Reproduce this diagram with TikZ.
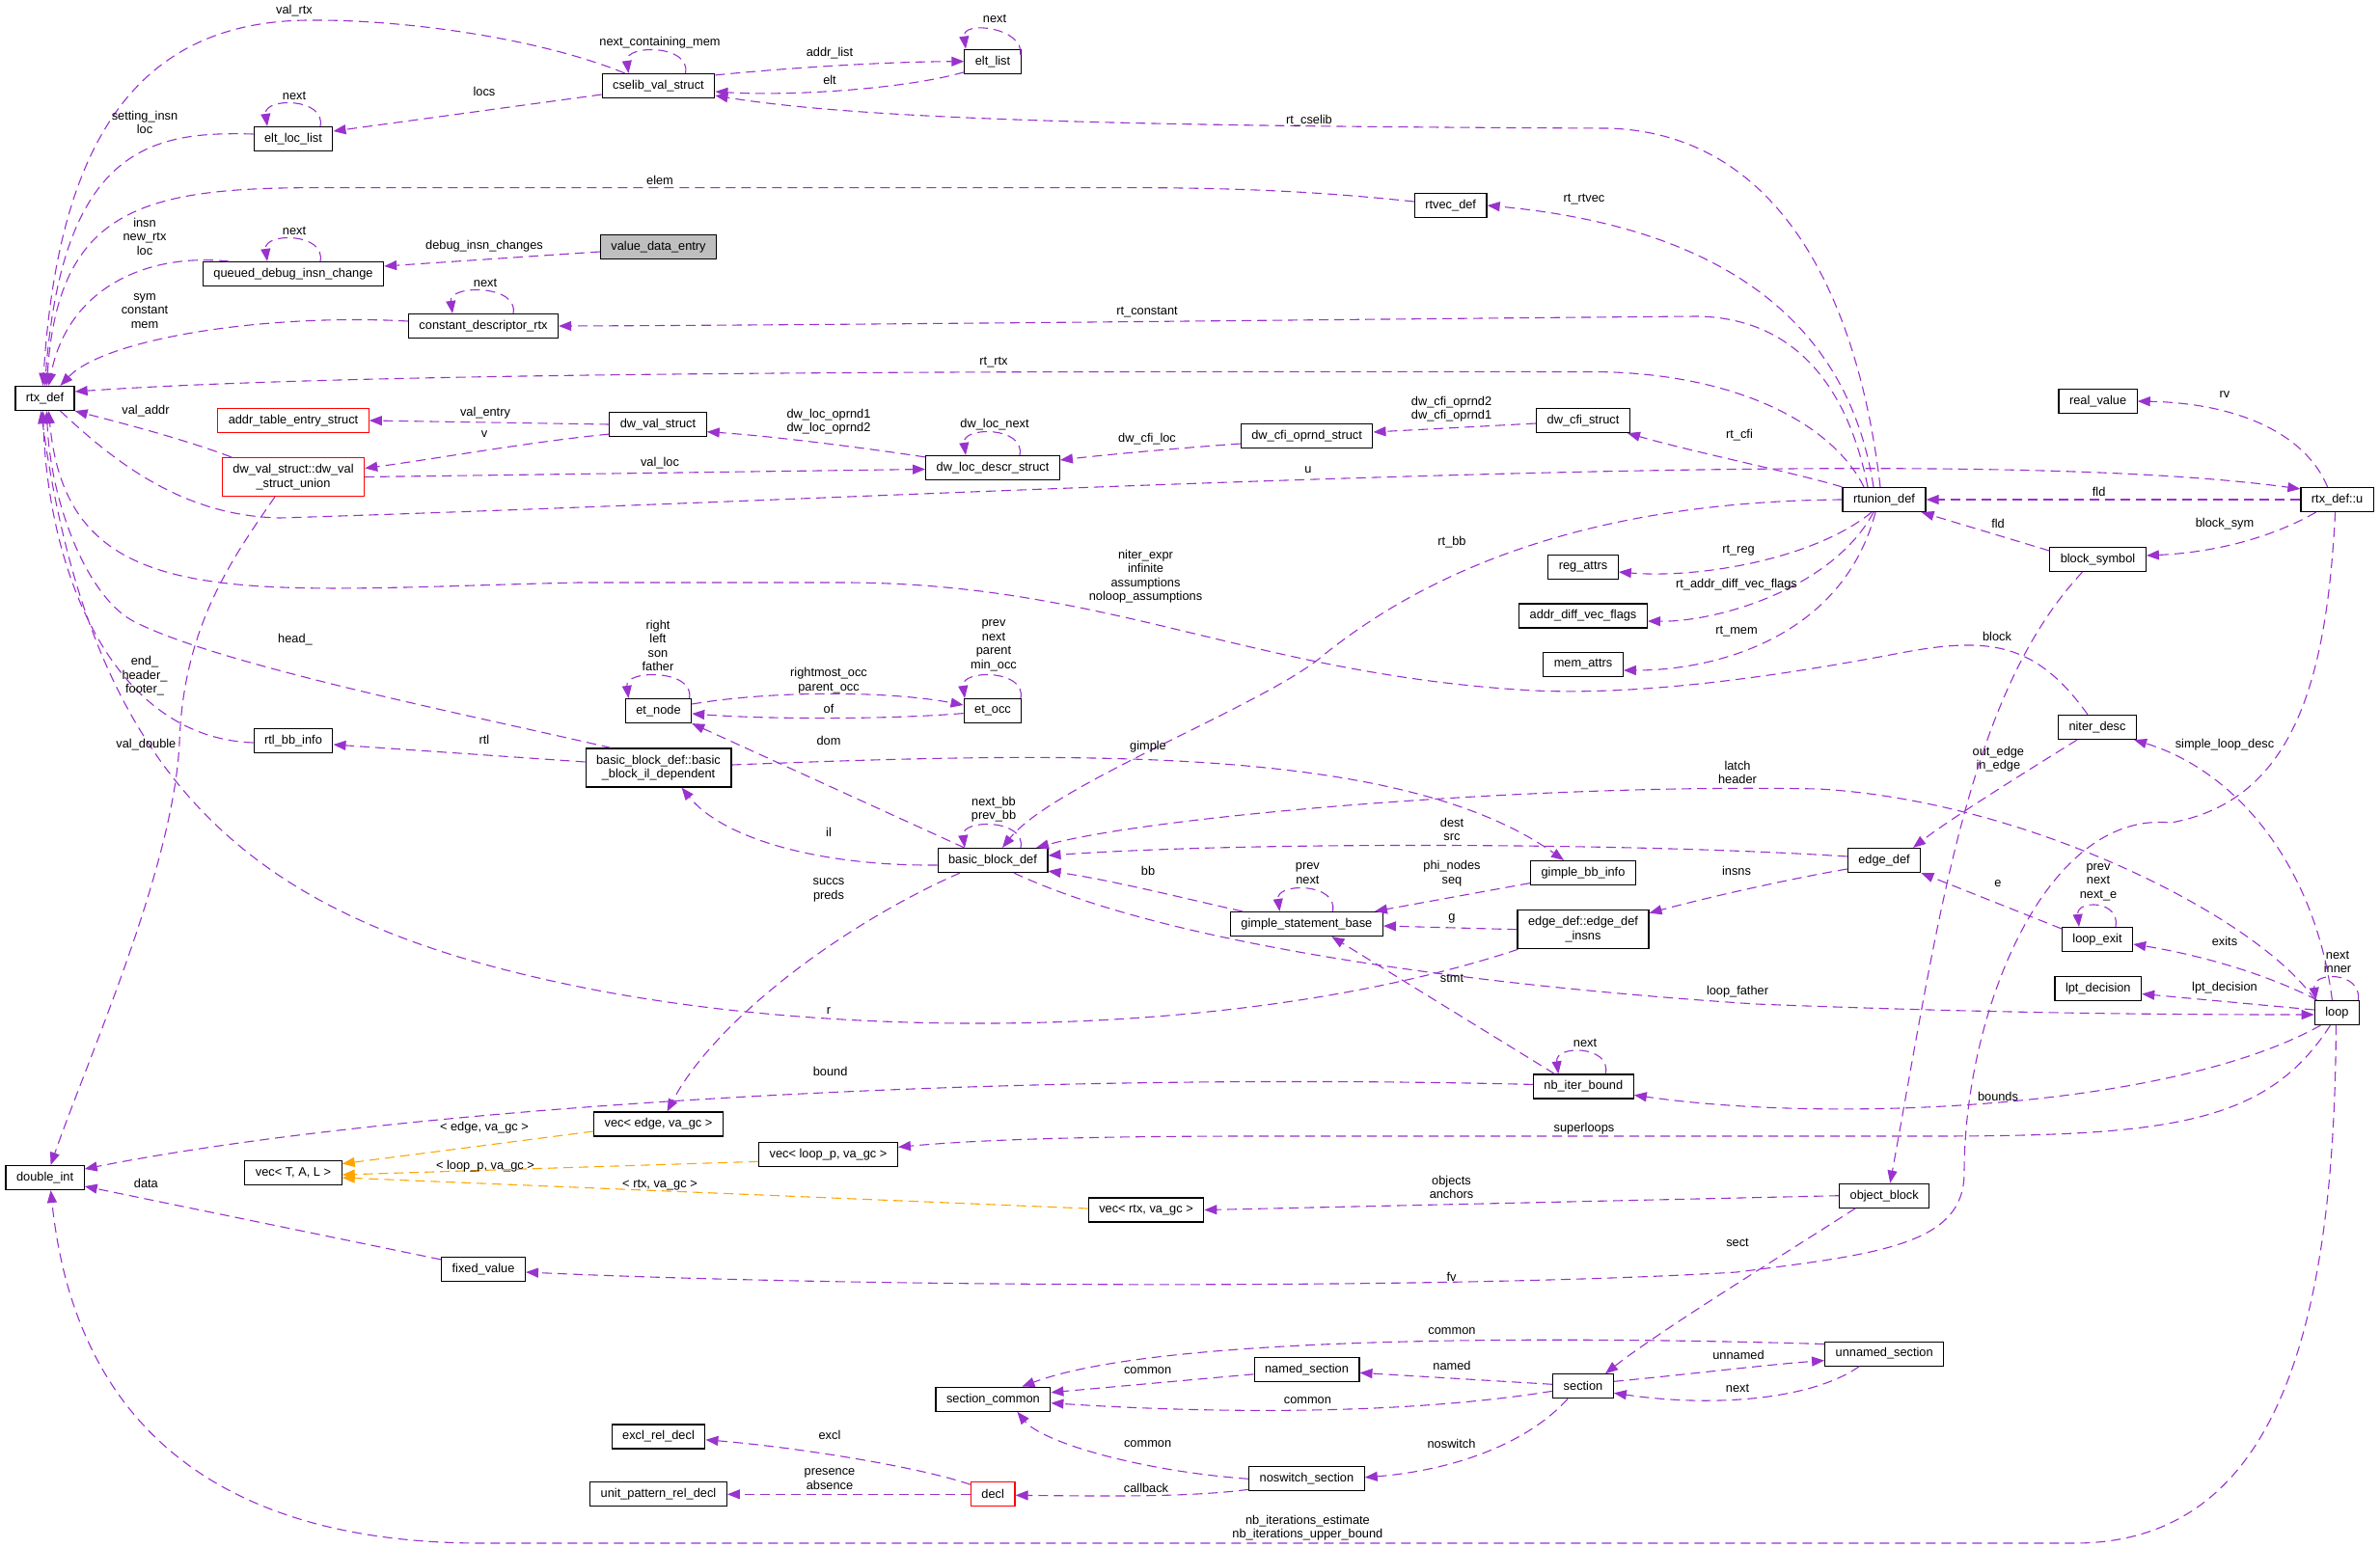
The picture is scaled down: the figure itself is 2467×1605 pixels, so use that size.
\documentclass[tikz,border=0pt]{standalone}
\usepackage{fontspec}
\setmainfont{Liberation Sans}
\usetikzlibrary{arrows.meta}
\definecolor{dxPurple}{HTML}{9A32CD}
\definecolor{dxOrange}{HTML}{FFA500}
\definecolor{dxGrey}{HTML}{BFBFBF}

\begin{document}
\begin{tikzpicture}[
  x=1pt,y=-1pt,
  cls/.style={draw=black,line width=1.2pt,fill=white,inner xsep=11pt,inner ysep=0pt,
              minimum height=25pt,font=\fontsize{12.8}{14.5}\selectfont,align=center},
  cls2/.style={cls,minimum height=40pt},
  undoc/.style={cls,draw=red},
  lbl/.style={inner sep=0pt,font=\fontsize{12.8}{14.5}\selectfont,align=center},
  rel/.style={draw=dxPurple,line width=1.1pt,dash pattern=on 10pt off 6pt,
              -{Triangle[length=13pt,width=10pt]}},
  tmpl/.style={rel,draw=dxOrange}
]
  \useasboundingbox (0,0) rectangle (2467,1605);

  % Column 1
  \node[cls] (rtxdef)    at (46.5,413)  {rtx\_def};
  \node[cls] (doubleint) at (46.6,1221) {double\_int};

  % Column 2
  \node[cls]   (eltloclist) at (304,144)   {elt\_loc\_list};
  \node[cls]   (queued)     at (304,284)   {queued\_debug\_insn\_change};
  \node[undoc] (addrtable)  at (304,436)   {addr\_table\_entry\_struct};
  \node[undoc,minimum height=40pt] (dwvalunion) at (304,494.5) {dw\_val\_struct::dw\_val\\\_struct\_union};
  \node[cls]   (rtlbb)      at (304,768)   {rtl\_bb\_info};
  \node[cls]   (vect)       at (304,1216)  {vec< T, A, L >};
  \node[cls]   (constdesc)  at (501,338)   {constant\_descriptor\_rtx};
  \node[cls]   (fixedval)   at (501,1316)  {fixed\_value};

  % Column 3
  \node[cls]   (cselib)    at (682.5,89)     {cselib\_val\_struct};
  \node[cls,fill=dxGrey] (valuedata) at (682.5,256) {value\_data\_entry};
  \node[cls]   (dwval)     at (682,440)      {dw\_val\_struct};
  \node[cls]   (etnode)    at (682.5,737)    {et\_node};
  \node[cls2]  (bbil)      at (682.5,796)    {basic\_block\_def::basic\\\_block\_il\_dependent};
  \node[cls]   (vecedge)   at (682.5,1165.5) {vec< edge, va\_gc >};
  \node[cls]   (excl)      at (682.5,1489.5) {excl\_rel\_decl};
  \node[cls]   (unitpat)   at (682.5,1549.3) {unit\_pattern\_rel\_decl};
  \node[cls]   (veclp)     at (858.5,1197.3) {vec< loop\_p, va\_gc >};

  % Column 4
  \node[cls]   (eltlist)    at (1029,63.7)    {elt\_list};
  \node[cls]   (dwlocdescr) at (1029,485)     {dw\_loc\_descr\_struct};
  \node[cls]   (etocc)      at (1029,737)     {et\_occ};
  \node[cls]   (bbdef)      at (1029,892)     {basic\_block\_def};
  \node[cls]   (seccommon)  at (1029.4,1450.7) {section\_common};
  \node[undoc] (decl)       at (1029.2,1549.3) {decl};
  \node[cls]   (vecrtx)     at (1188,1254.5)  {vec< rtx, va\_gc >};

  % Column 5
  \node[cls] (cfioprnd) at (1354.6,452)    {dw\_cfi\_oprnd\_struct};
  \node[cls] (gsb)      at (1354.4,958)    {gimple\_statement\_base};
  \node[cls] (named)    at (1354.5,1419.8) {named\_section};
  \node[cls] (noswitch) at (1354.4,1533.3) {noswitch\_section};
  \node[cls] (rtvecdef) at (1503.7,213)    {rtvec\_def};

  % Column 6
  \node[cls]  (cfistruct) at (1641,436)     {dw\_cfi\_struct};
  \node[cls]  (regattrs)  at (1641,588)     {reg\_attrs};
  \node[cls]  (addrdiff)  at (1641,638.5)   {addr\_diff\_vec\_flags};
  \node[cls]  (memattrs)  at (1641,689)     {mem\_attrs};
  \node[cls]  (gbbinfo)   at (1641,905)     {gimple\_bb\_info};
  \node[cls2] (edgeinsns) at (1641,963.7)   {edge\_def::edge\_def\\\_insns};
  \node[cls]  (nbiter)    at (1641.3,1126.4) {nb\_iter\_bound};
  \node[cls]  (section)   at (1641,1437.3)  {section};

  % Column 7
  \node[cls] (rtunion)  at (1953,518)      {rtunion\_def};
  \node[cls] (edgedef)  at (1953,892)      {edge\_def};
  \node[cls] (objblock) at (1953.2,1239.7) {object\_block};
  \node[cls] (unnamed)  at (1953.2,1403.6) {unnamed\_section};

  % Column 8
  \node[cls] (realvalue) at (2174.6,416) {real\_value};
  \node[cls] (blocksym)  at (2174.5,580) {block\_symbol};
  \node[cls] (niterdesc) at (2174,754)   {niter\_desc};
  \node[cls] (loopexit)  at (2174,974)   {loop\_exit};
  \node[cls] (lptdec)    at (2174.8,1025) {lpt\_decision};
  \node[cls] (rtxu)      at (2422.6,518) {rtx\_def::u};
  \node[cls] (loop)      at (2422.4,1050) {loop};

  % Edges into rtx_def
  \draw[rel] ([xshift=24pt]cselib.north west) .. controls (560,40) and (420,20) .. (320,21)
             .. controls (140,22) and (60,150) .. ([xshift=-2pt]rtxdef.north);
  \node[lbl] at (305,11) {val\_rtx};
  \draw[rel] ([yshift=5pt]eltloclist.west) .. controls (160,136) and (65,150) .. (rtxdef.north);
  \node[lbl] at (150,127) {setting\_insn\\loc};
  \draw[rel] ([yshift=4pt]rtvecdef.west) .. controls (1380,200) and (1300,195) .. (1180,194.6)
             -- (330,194.6) .. controls (150,194.6) and (60,215) .. ([xshift=2pt]rtxdef.north);
  \node[lbl] at (684,187) {elem};
  \draw[rel] ([xshift=27pt]queued.north west) .. controls (150,262) and (70,300) .. ([xshift=4pt]rtxdef.north);
  \node[lbl] at (150,245) {insn\\new\_rtx\\loc};
  \draw[rel] ([yshift=5pt]constdesc.west) .. controls (280,325) and (110,350) .. ([xshift=16pt]rtxdef.north);
  \node[lbl] at (150,322.5) {sym\\constant\\mem};
  \draw[rel] ([xshift=-21pt]rtunion.north) .. controls (1900,440) and (1800,386) .. (1650,385.5)
             .. controls (1100,385) and (400,384) .. ([yshift=7pt]rtxdef.east);
  \node[lbl] at (1030,376) {rt\_rtx};
  \draw[rel] ([xshift=10pt]dwvalunion.north west) .. controls (190,455) and (120,437) .. (rtxdef.south east);
  \node[lbl] at (151,426) {val\_addr};
  \draw[rel] ([xshift=27pt]bbil.north west) .. controls (480,740) and (230,690) .. (140,645)
             .. controls (90,620) and (52,520) .. ([xshift=2pt]rtxdef.south);
  \node[lbl] at (306,663) {head\_};
  \draw[rel] ([yshift=-2pt]rtlbb.west) .. controls (120,765) and (50,600) .. ([xshift=-2pt]rtxdef.south);
  \node[lbl] at (150,700.8) {end\_\\header\_\\footer\_};
  \draw[rel] ([xshift=-10pt]niterdesc.north) .. controls (2110,665) and (2060,660) .. (1970,677)
             .. controls (1880,694) and (1720,722) .. (1590,716)
             .. controls (1300,700) and (1150,605) .. (877,604) -- (600,604)
             .. controls (250,612) and (70,640) .. ([xshift=4pt]rtxdef.south);
  \node[lbl] at (1187.5,597.5) {niter\_expr\\infinite\\assumptions\\noloop\_assumptions};
  \draw[rel] ([xshift=1pt]edgeinsns.south west) .. controls (1300,1075) and (900,1080) .. (620,1027)
             .. controls (300,965) and (100,850) .. ([xshift=-4pt]rtxdef.south);
  \node[lbl] at (859,1048.5) {r};
  \draw[rel] ([xshift=16pt]rtxdef.south) .. controls (120,480) and (190,535) .. (290,537)
             .. controls (1000,515) and (2000,455) .. ([yshift=-2pt]rtxu.north west);
  \node[lbl] at (1356,487) {u};

  % cselib and friends
  \draw[rel] ([xshift=28pt]cselib.north) .. controls +(6,-30) and +(-4,-30) .. ([xshift=-31pt]cselib.north);
  \node[lbl] at (684,44) {next\_containing\_mem};
  \draw[rel] ([yshift=-2pt]cselib.north east) .. controls (820,70) and (920,64) .. (eltlist.west);
  \node[lbl] at (860,55) {addr\_list};
  \draw[rel] ([yshift=2pt]eltlist.south west) .. controls (940,92) and (820,100) .. ([yshift=-6pt]cselib.east);
  \node[lbl] at (860,83) {elt};
  \draw[rel] ([xshift=-1pt,yshift=-6pt]eltlist.north east) .. controls +(4,-28) and +(-4,-30) .. ([xshift=-28pt]eltlist.north);
  \node[lbl] at (1031,19) {next};
  \draw[rel] ([yshift=-9pt]cselib.west) -- ([yshift=8pt]eltloclist.east);
  \node[lbl] at (502,95) {locs};
  \draw[rel] ([xshift=28pt]eltloclist.north) .. controls +(6,-30) and +(-4,-30) .. ([xshift=-27pt]eltloclist.north);
  \node[lbl] at (305,99) {next};
  \draw[rel] ([xshift=-4pt]rtunion.north) .. controls (1925,300) and (1840,138) .. (1667,133)
             .. controls (1200,131) and (900,125) .. ([yshift=3pt]cselib.south east);
  \node[lbl] at (1357,125) {rt\_cselib};
  \draw[rel] ([xshift=-11pt]rtunion.north) .. controls (1915,330) and (1780,235) .. (rtvecdef.east);
  \node[lbl] at (1642,207) {rt\_rtvec};
  \draw[rel] ([yshift=-5pt]valuedata.west) -- ([yshift=8pt]queued.east);
  \node[lbl] at (502,255) {debug\_insn\_changes};
  \draw[rel] ([xshift=28pt]queued.north) .. controls +(6,-30) and +(-4,-30) .. ([xshift=-27pt]queued.north);
  \node[lbl] at (305,239) {next};
  \draw[rel] ([xshift=31pt]constdesc.north) .. controls +(6,-30) and +(-4,-30) .. ([xshift=-32pt]constdesc.north);
  \node[lbl] at (503,293) {next};
  \draw[rel] ([xshift=-17pt]rtunion.north) .. controls (1915,400) and (1860,330) .. (1760,328)
             .. controls (1500,330) and (900,337) .. (constdesc.east);
  \node[lbl] at (1189,324) {rt\_constant};

  % dwarf structures
  \draw[rel] (rtunion.north west) .. controls (1860,490) and (1760,470) .. ([xshift=-3pt]cfistruct.south east);
  \node[lbl] at (1803,451) {rt\_cfi};
  \draw[rel] ([yshift=-3pt]cfistruct.west) -- ([yshift=4pt]cfioprnd.east);
  \node[lbl] at (1504.5,424) {dw\_cfi\_oprnd2\\dw\_cfi\_oprnd1};
  \draw[rel] ([yshift=-8pt]cfioprnd.west) .. controls (1230,464) and (1150,471) .. ([yshift=8pt]dwlocdescr.east);
  \node[lbl] at (1189,455) {dw\_cfi\_loc};
  \draw[rel] ([xshift=28pt]dwlocdescr.north) .. controls +(6,-30) and +(-4,-30) .. ([xshift=-28pt]dwlocdescr.north);
  \node[lbl] at (1031,440) {dw\_loc\_next};
  \draw[rel] ([yshift=-2pt]dwlocdescr.north west) .. controls (900,465) and (800,452) .. ([yshift=-7.7pt]dwval.east);
  \node[lbl] at (859,437.4) {dw\_loc\_oprnd1\\dw\_loc\_oprnd2};
  \draw[rel] (dwval.west) -- (addrtable.east);
  \node[lbl] at (503,428) {val\_entry};
  \draw[rel] ([yshift=3pt]dwval.south west) .. controls (550,458) and (450,476) .. ([yshift=9pt]dwvalunion.east);
  \node[lbl] at (502,450.5) {v};
  \draw[rel] (dwvalunion.east) -- ([yshift=-1.5pt]dwlocdescr.west);
  \node[lbl] at (684,480) {val\_loc};
  \draw[rel] ([xshift=-19pt]dwvalunion.south) .. controls (240,580) and (190,650) .. (186,770)
             .. controls (180,900) and (90,1100) .. ([xshift=6pt]doubleint.north);
  \node[lbl] at (151.4,772.5) {val\_double};

  % rtunion_def members
  \draw[rel] (rtxu.west) -- (rtunion.east);
  \node[lbl] at (2175.6,510) {fld};
  \draw[rel] ([yshift=9pt]blocksym.west) -- ([xshift=-5pt]rtunion.south east);
  \node[lbl] at (2071,543) {fld};
  \draw[rel] ([xshift=-22pt]rtxu.south) .. controls (2350,560) and (2290,573) .. ([yshift=4pt]blocksym.east);
  \node[lbl] at (2306,543) {block\_sym};
  \draw[rel] ([xshift=-10pt]rtxu.north) .. controls (2390,450) and (2320,418) .. (realvalue.east);
  \node[lbl] at (2306,409) {rv};
  \draw[rel] ([xshift=-13pt]rtunion.south) .. controls (1880,580) and (1760,600) .. ([yshift=-5pt]regattrs.east);
  \node[lbl] at (1802,571) {rt\_reg};
  \draw[rel] ([xshift=-11pt]rtunion.south) .. controls (1900,610) and (1780,645) .. ([yshift=-5.5pt]addrdiff.east);
  \node[lbl] at (1800,606) {rt\_addr\_diff\_vec\_flags};
  \draw[rel] ([xshift=-9pt]rtunion.south) .. controls (1910,660) and (1780,695) .. ([yshift=-6pt]memattrs.east);
  \node[lbl] at (1800,655) {rt\_mem};
  \draw[rel] (rtunion.west) .. controls (1650,520) and (1480,590) .. (1366,684)
             .. controls (1300,735) and (1090,815) .. ([xshift=10pt]bbdef.north);
  \node[lbl] at (1505,562) {rt\_bb};

  % basic blocks
  \draw[rel] ([xshift=32pt]etnode.north) .. controls +(6,-30) and +(-4,-30) .. ([xshift=-31pt]etnode.north);
  \node[lbl] at (682,669.5) {right\\left\\son\\father};
  \draw[rel] ([xshift=29pt]etocc.north) .. controls +(6,-30) and +(-4,-30) .. ([xshift=-29pt]etocc.north);
  \node[lbl] at (1030,669.5) {prev\\next\\parent\\min\_occ};
  \draw[rel] ([yshift=7pt]etnode.east) .. controls (800,716) and (920,716) .. ([yshift=6pt]etocc.west);
  \node[lbl] at (859,705.7) {rightmost\_occ\\parent\_occ};
  \draw[rel] ([yshift=-2.6pt]etocc.west) .. controls (920,746) and (800,746) .. ([yshift=-3pt]etnode.east);
  \node[lbl] at (859,734.6) {of};
  \draw[rel] ([xshift=28pt]bbdef.north west) -- (etnode.south east);
  \node[lbl] at (859,767.5) {dom};
  \draw[rel] ([yshift=6pt]bbil.west) -- ([yshift=-4pt]rtlbb.east);
  \node[lbl] at (502,767) {rtl};
  \draw[rel] ([yshift=3pt]bbil.east) .. controls (1100,780) and (1450,770) .. ([xshift=-20pt]gbbinfo.north);
  \node[lbl] at (1190,774.6) {gimple};
  \draw[rel] ([xshift=29pt]bbdef.north) .. controls +(6,-30) and +(-4,-30) .. ([xshift=-29pt]bbdef.north);
  \node[lbl] at (1030,839) {next\_bb\\prev\_bb};
  \draw[rel] ([yshift=-5pt]bbdef.west) .. controls (850,898) and (750,870) .. ([xshift=24pt]bbil.south);
  \node[lbl] at (859,863) {il};
  \draw[rel] ([xshift=-34pt]bbdef.south) .. controls (870,960) and (740,1060) .. ([xshift=9pt]vecedge.north);
  \node[lbl] at (859,923) {succs\\preds};
  \draw[rel] ([xshift=1pt]loop.north west) .. controls (2340,950) and (2100,830) .. (1885,818)
             .. controls (1600,812) and (1200,845) .. ([xshift=45pt]bbdef.north);
  \node[lbl] at (1801,801) {latch\\header};
  \draw[rel] ([yshift=4pt]edgedef.west) .. controls (1700,874) and (1300,872) .. ([yshift=5pt]bbdef.east);
  \node[lbl] at (1505,860) {dest\\src};
  \draw[rel] ([xshift=13pt]gsb.north west) .. controls (1230,932) and (1150,912) .. ([yshift=2pt]bbdef.south east);
  \node[lbl] at (1190,902.5) {bb};
  \draw[rel] ([xshift=22pt]bbdef.south) .. controls (1200,975) and (1500,1020) .. (1820,1041)
             .. controls (2100,1052) and (2300,1052) .. ([yshift=-2pt]loop.west);
  \node[lbl] at (1801,1028) {loop\_father};

  % gimple
  \draw[rel] ([yshift=-10.6pt]gbbinfo.west) -- ([xshift=-9pt]gsb.north east);
  \node[lbl] at (1505,905.7) {phi\_nodes\\seq};
  \draw[rel] ([xshift=27pt]gsb.north) .. controls +(6,-30) and +(-4,-30) .. ([xshift=-28pt]gsb.north);
  \node[lbl] at (1355.4,905.7) {prev\\next};
  \draw[rel] (edgeinsns.west) -- ([yshift=-2pt]gsb.east);
  \node[lbl] at (1505,952) {g};
  \draw[rel] ([yshift=-9pt]edgedef.west) .. controls (1850,912) and (1760,933) .. ([yshift=17pt]edgeinsns.east);
  \node[lbl] at (1800,903) {insns};
  \draw[rel] ([xshift=-30pt]nbiter.north) -- ([xshift=26pt]gsb.south);
  \node[lbl] at (1505,1014) {stmt};
  \draw[rel] ([xshift=23pt]nbiter.north) .. controls +(6,-30) and +(-4,-30) .. ([xshift=-26pt]nbiter.north);
  \node[lbl] at (1643,1081) {next};

  % loops
  \draw[rel] ([xshift=-21pt]niterdesc.south) .. controls (2100,800) and (2020,850) .. ([xshift=30pt]edgedef.north);
  \node[lbl] at (2071.4,787) {out\_edge\\in\_edge};
  \draw[rel] ([xshift=-16pt]blocksym.south) .. controls (2040,720) and (2010,950) .. ([xshift=6pt]objblock.north);
  \node[lbl] at (2070,660) {block};
  \draw[rel] ([xshift=-5pt]loop.north) .. controls (2400,900) and (2320,800) .. ([xshift=-3pt]niterdesc.south east);
  \node[lbl] at (2306,772.5) {simple\_loop\_desc};
  \draw[rel] ([yshift=-2pt]loopexit.north west) -- (edgedef.south east);
  \node[lbl] at (2071,916) {e};
  \draw[rel] ([xshift=19pt]loopexit.north) .. controls +(5,-28) and +(-3,-28) .. ([xshift=-19pt]loopexit.north);
  \node[lbl] at (2175,914.6) {prev\\next\\next\_e};
  \draw[rel] ([xshift=3pt]loop.north west) .. controls (2350,1010) and (2280,990) .. ([yshift=-5pt]loopexit.east);
  \node[lbl] at (2306,976) {exits};
  \draw[rel] ([yshift=3pt]loop.west) -- ([yshift=-5.5pt]lptdec.east);
  \node[lbl] at (2306,1024) {lpt\_decision};
  \draw[rel] ([xshift=22pt]loop.north) .. controls +(4,-30) and +(-4,-30) .. ([xshift=-22pt]loop.north);
  \node[lbl] at (2423,997.6) {next\\inner};
  \draw[rel] ([xshift=-17pt]loop.south) .. controls (2250,1150) and (1900,1165) .. ([yshift=-9pt]nbiter.east);
  \node[lbl] at (2071,1136.5) {bounds};
  \draw[rel] ([xshift=-7pt]loop.south) .. controls (2350,1165) and (2250,1178) .. (2000,1178) -- (1300,1178)
             .. controls (1100,1178) and (1000,1183) .. ([yshift=8pt]veclp.east);
  \node[lbl] at (1642,1170.5) {superloops};
  \draw[rel] ([xshift=-1pt]loop.south) .. controls (2420,1400) and (2350,1600) .. (2150,1600) -- (500,1600)
             .. controls (150,1600) and (70,1400) .. ([xshift=6pt]doubleint.south);
  \node[lbl] at (1355.4,1584.3) {nb\_iterations\_estimate\\nb\_iterations\_upper\_bound};
  \draw[rel] ([yshift=2pt]nbiter.west) .. controls (1000,1110) and (400,1150) .. ([yshift=9pt]doubleint.east);
  \node[lbl] at (860.6,1111.4) {bound};

  % vec templates
  \draw[tmpl] ([yshift=-7.5pt]vecedge.west) -- ([yshift=9.4pt]vect.east);
  \node[lbl] at (502,1169) {< edge, va\_gc >};
  \draw[tmpl] ([yshift=-7pt]veclp.west) -- ([yshift=-2pt]vect.east);
  \node[lbl] at (503,1209) {< loop\_p, va\_gc >};
  \draw[tmpl] ([yshift=1.5pt]vecrtx.west) -- ([yshift=-5pt]vect.east);
  \node[lbl] at (684,1228.6) {< rtx, va\_gc >};
  \draw[rel] (objblock.west) -- (vecrtx.east);
  \node[lbl] at (1504.5,1231) {objects\\anchors};
  \draw[rel] ([yshift=-3pt]fixedval.north west) -- ([yshift=-9pt]doubleint.east);
  \node[lbl] at (151.4,1226.8) {data};
  \draw[rel] ([xshift=-2pt]rtxu.south) .. controls (2412,700) and (2380,830) .. (2250,853)
             .. controls (2120,840) and (2036,1050) .. (2036,1216)
             .. controls (2036,1290) and (1950,1300) .. (1800,1319)
             .. controls (1500,1337) and (900,1335) .. ([yshift=-3pt]fixedval.east);
  \node[lbl] at (1504.5,1324) {fv};

  % sections
  \draw[rel] ([xshift=-30pt]objblock.south) .. controls (1850,1300) and (1720,1380) .. ([xshift=23pt]section.north);
  \node[lbl] at (1801,1288.7) {sect};
  \draw[rel] ([yshift=-3pt]unnamed.north west) .. controls (1600,1385) and (1200,1385) .. ([xshift=30pt]seccommon.north);
  \node[lbl] at (1505,1380.5) {common};
  \draw[rel] ([yshift=5pt]section.east) .. controls (1750,1425) and (1830,1415) .. ([yshift=-7pt]unnamed.west);
  \node[lbl] at (1802,1405) {unnamed};
  \draw[rel] ([xshift=-26pt]unnamed.south) .. controls (1880,1450) and (1780,1460) .. ([yshift=-7pt]section.east);
  \node[lbl] at (1801,1439) {next};
  \draw[rel] ([yshift=2pt]section.west) -- ([yshift=-3.5pt]named.east);
  \node[lbl] at (1505,1416) {named};
  \draw[rel] ([yshift=-5pt]named.west) -- ([yshift=7pt]seccommon.east);
  \node[lbl] at (1189.6,1420.8) {common};
  \draw[rel] ([yshift=-5pt]section.west) .. controls (1450,1468) and (1250,1465) .. ([yshift=-4pt]seccommon.east);
  \node[lbl] at (1355.4,1451.7) {common};
  \draw[rel] ([xshift=-16pt]section.south) .. controls (1580,1500) and (1500,1525) .. ([yshift=1.5pt]noswitch.east);
  \node[lbl] at (1504.5,1497) {noswitch};
  \draw[rel] (noswitch.west) .. controls (1180,1525) and (1080,1495) .. ([xshift=25pt]seccommon.south);
  \node[lbl] at (1189.6,1497) {common};
  \draw[rel] ([yshift=-11pt]noswitch.west) .. controls (1230,1553) and (1130,1551) .. ([yshift=-1pt]decl.east);
  \node[lbl] at (1188,1542.5) {callback};
  \draw[rel] ([yshift=-3pt]decl.north west) .. controls (950,1520) and (820,1500) .. ([yshift=-3.3pt]excl.east);
  \node[lbl] at (860,1487.5) {excl};
  \draw[rel] (decl.west) -- (unitpat.east);
  \node[lbl] at (860,1533.7) {presence\\absence};
\end{tikzpicture}
\end{document}
